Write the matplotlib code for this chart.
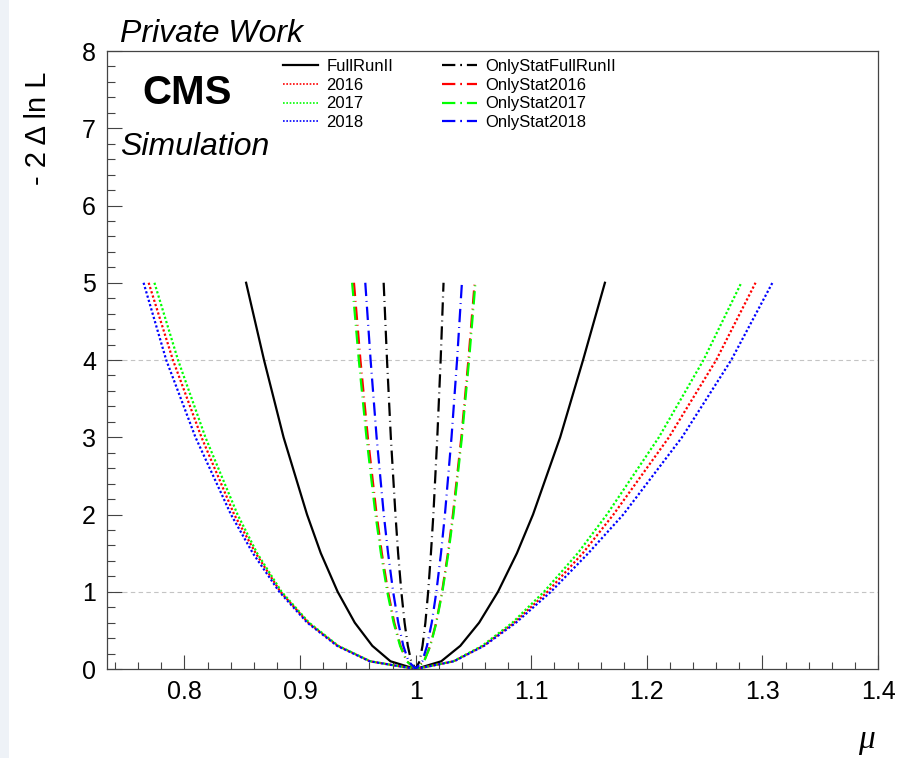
import matplotlib
matplotlib.use("Agg")
import matplotlib.pyplot as plt
from matplotlib.lines import Line2D
from matplotlib.patches import Rectangle
from matplotlib.ticker import MultipleLocator, FuncFormatter

plt.rcParams["font.family"] = ["Liberation Sans", "DejaVu Sans"]

# -2 Delta lnL levels of the scan points, left branch then right branch
scan_nll = [5, 4, 3, 2, 1.5, 1, 0.6, 0.3, 0.1, 0,
            0.1, 0.3, 0.6, 1, 1.5, 2, 3, 4, 5]

# signal strength values at those levels, full systematics
mu_fullrun = [0.8533, 0.8688, 0.8857, 0.9060, 0.9179, 0.9325, 0.9473, 0.9625, 0.9782, 1.0,
              1.0221, 1.0386, 1.0549, 1.0712, 1.0876, 1.1015, 1.1250, 1.1448, 1.1637]
mu_2016 = [0.769, 0.790, 0.8147, 0.843, 0.8616, 0.883, 0.907, 0.9326, 0.9605, 1.0,
           1.0329, 1.0586, 1.0853, 1.114, 1.1446, 1.1711, 1.2191, 1.260, 1.294]
mu_2017 = [0.774, 0.7944, 0.8181, 0.8459, 0.8628, 0.884, 0.9078, 0.9331, 0.9608, 1.0,
           1.0326, 1.0575, 1.0837, 1.111, 1.1403, 1.1654, 1.2104, 1.249, 1.2817]
mu_2018 = [0.7646, 0.7842, 0.8095, 0.8402, 0.8591, 0.882, 0.9062, 0.932, 0.9602, 1.0,
           1.0332, 1.0592, 1.0868, 1.117, 1.1494, 1.1796, 1.2304, 1.273, 1.3086]

# statistical uncertainty only
mu_stat_fullrun = [0.9723, 0.9752, 0.9785, 0.9825, 0.9848, 0.9876, 0.9904, 0.9932, 0.9961, 1.0,
                   1.0034, 1.0059, 1.0084, 1.0108, 1.0132, 1.0153, 1.0187, 1.0216, 1.0241]
mu_stat_2016 = [0.9466, 0.9522, 0.9586, 0.9662, 0.9707, 0.9761, 0.9815, 0.9869, 0.9924, 1.0,
                1.0072, 1.0125, 1.0177, 1.0228, 1.0279, 1.0322, 1.0395, 1.0456, 1.051]
mu_stat_2017 = [0.945, 0.9508, 0.9574, 0.9652, 0.9699, 0.9754, 0.9809, 0.9865, 0.9922, 1.0,
                1.0073, 1.0127, 1.0179, 1.0231, 1.0283, 1.0327, 1.040, 1.0462, 1.0517]
mu_stat_2018 = [0.9564, 0.961, 0.9662, 0.9724, 0.9761, 0.9805, 0.9849, 0.9893, 0.9938, 1.0,
                1.0057, 1.0098, 1.0139, 1.0179, 1.0219, 1.0253, 1.031, 1.0358, 1.040]

labels_syst = ["FullRunII", "2016", "2017", "2018"]
labels_stat = ["OnlyStatFullRunII", "OnlyStat2016", "OnlyStat2017", "OnlyStat2018"]
colors = ["black", "#ff0000", "#00ff00", "#0000ff"]

DOTTED = (0, (1, 1))
DASHDOT = (0, (6, 2.2, 0.4, 2.2))

fig = plt.figure(figsize=(8.98, 7.58), dpi=100)
# pale strip along the left edge of the canvas
fig.patches.append(Rectangle((0, 0), 9 / 898, 1, transform=fig.transFigure,
                             facecolor="#eef2f7", edgecolor="none", zorder=0))
ax = fig.add_axes([0.1192, 0.1174, 0.8586, 0.8153])

for yv in (1, 4):
    ax.axhline(yv, color="#c4c4c4", lw=0.8, ls=(0, (4, 3)), zorder=1)

syst_curves = [mu_fullrun, mu_2016, mu_2017, mu_2018]
stat_curves = [mu_stat_fullrun, mu_stat_2016, mu_stat_2017, mu_stat_2018]
syst_styles = ["-", DOTTED, DOTTED, DOTTED]

handles = []
for mu, lab, col, ls in zip(syst_curves, labels_syst, colors, syst_styles):
    ax.plot(mu, scan_nll, color=col, ls=ls, lw=1.6, zorder=3)
    handles.append(Line2D([], [], color=col, ls=ls, lw=1.6 if ls == "-" else 1.2, label=lab))
for mu, lab, col in zip(stat_curves, labels_stat, colors):
    ax.plot(mu, scan_nll, color=col, ls=DASHDOT, lw=1.6, zorder=4)
    handles.append(Line2D([], [], color=col, ls=(0, (6, 2.2, 0.8, 2.2)), lw=1.6, label=lab))

ax.set_xlim(0.733, 1.4)
ax.set_ylim(0, 8)

ax.xaxis.set_major_locator(MultipleLocator(0.1))
ax.xaxis.set_minor_locator(MultipleLocator(0.02))
ax.yaxis.set_major_locator(MultipleLocator(1))
ax.yaxis.set_minor_locator(MultipleLocator(0.2))
ax.xaxis.set_major_formatter(FuncFormatter(lambda v, p: f"{v:g}"))
ax.yaxis.set_major_formatter(FuncFormatter(lambda v, p: f"{v:g}"))

ax.tick_params(which="both", direction="in", top=False, right=False,
               color="#444444", width=0.8, labelsize=18)
ax.tick_params(axis="y", which="major", length=11, pad=8)
ax.tick_params(axis="y", which="minor", length=5.5)
ax.tick_params(axis="x", which="major", length=10, pad=8)
ax.tick_params(axis="x", which="minor", length=5)
for sp in ax.spines.values():
    sp.set_color("#444444")
    sp.set_linewidth(0.9)

leg = ax.legend(handles=handles, ncol=2, frameon=False, fontsize=12,
                loc="upper left", bbox_to_anchor=(283 / 898, 1 - 59 / 758),
                bbox_transform=fig.transFigure, borderpad=0, borderaxespad=0,
                handlelength=2.1, handletextpad=0.5, columnspacing=2.9,
                labelspacing=0.22)

fig.text(120 / 898, 1 - 42 / 758, "Private Work", fontsize=23, style="italic")
fig.text(142 / 898, 1 - 104 / 758, "CMS", fontsize=29, weight="bold")
fig.text(120 / 898, 1 - 155 / 758, "Simulation", fontsize=23, style="italic")

fig.text(38 / 898, 1 - 128 / 758, "- 2 \u0394 ln L", fontsize=21, rotation=90,
         ha="center", va="center")
fig.text(866 / 898, 1 - 748 / 758, "\u03bc", fontsize=24, style="italic",
         family=["Liberation Serif", "DejaVu Serif"], ha="center", va="baseline")

fig.savefig("out.png", dpi=100)
